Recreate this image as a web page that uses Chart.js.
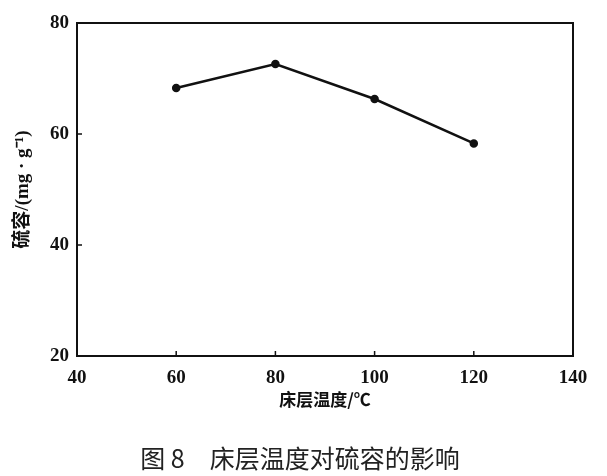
<!DOCTYPE html>
<html lang="zh">
<head>
  <meta charset="UTF-8">
  <title>床层温度对硫容的影响</title>
  <script src="https://cdn.jsdelivr.net/npm/chart.js"></script>
  <style>
    html, body { margin: 0; padding: 0; background: #fff; }
    #wrap { width: 607px; height: 476px; }
  </style>
</head>
<body>
<div id="wrap"><canvas id="c"></canvas></div>
<script>
// 床层温度 (℃) 与硫容 (mg/g)
const temps = [60, 80, 100, 120];
const sulfurCap = [68.3, 72.6, 66.3, 58.3];
const xTicks = [40, 60, 80, 100, 120, 140];
const yTicks = [20, 40, 60, 80];
const caption = '图 8　床层温度对硫容的影响';

const serif = '"Liberation Serif", "Noto Sans CJK SC", serif';

// 坐标框 + 向内刻度 + 图题
const frame = {
  id: 'frame',
  afterDraw(chart) {
    const { ctx, chartArea: a, scales } = chart;
    ctx.save();
    ctx.strokeStyle = '#111';
    ctx.lineWidth = 2;
    ctx.strokeRect(a.left, a.top, a.right - a.left, a.bottom - a.top);
    ctx.lineWidth = 1.5;
    ctx.beginPath();
    xTicks.slice(1, -1).forEach(v => {
      const px = scales.x.getPixelForValue(v);
      ctx.moveTo(px, a.bottom);
      ctx.lineTo(px, a.bottom - 5);
    });
    yTicks.slice(1, -1).forEach(v => {
      const py = scales.y.getPixelForValue(v);
      ctx.moveTo(a.left, py);
      ctx.lineTo(a.left + 5, py);
    });
    ctx.stroke();

    ctx.fillStyle = '#222';
    ctx.font = '25px "Noto Sans CJK SC", sans-serif';
    ctx.textAlign = 'center';
    ctx.textBaseline = 'middle';
    ctx.fillText(caption, 300, 458);
    ctx.restore();
  }
};

new Chart(document.getElementById('c'), {
  type: 'line',
  data: {
    datasets: [{
      data: temps.map((t, i) => ({ x: t, y: sulfurCap[i] })),
      borderColor: '#111',
      backgroundColor: '#111',
      borderWidth: 2.5,
      pointRadius: 3,
      fill: false,
      tension: 0
    }]
  },
  options: {
    responsive: true,
    maintainAspectRatio: false,
    animation: false,
    layout: { padding: { top: 23, right: 34, left: 0, bottom: 476 - 443 } },
    plugins: {
      legend: { display: false },
      tooltip: { enabled: false },
      title: { display: false }
    },
    scales: {
      x: {
        type: 'linear',
        min: 40, max: 140,
        afterBuildTicks: s => { s.ticks = xTicks.map(v => ({ value: v })); },
        afterFit: s => { s.height = 443 - 356; },
        grid: { display: false, drawTicks: false },
        border: { display: true, color: '#111', width: 2 },
        ticks: { color: '#111', padding: 11, font: { family: serif, size: 19, weight: 'bold' } },
        title: {
          display: true,
          text: '床层温度/℃',
          color: '#111',
          font: { family: '"Noto Sans CJK SC", sans-serif', size: 17, weight: 'bold', lineHeight: 1.2 },
          padding: { top: 0, bottom: 33 }
        }
      },
      y: {
        min: 20, max: 80,
        afterBuildTicks: s => { s.ticks = yTicks.map(v => ({ value: v })); },
        afterFit: s => { s.width = 77; },
        grid: { display: false, drawTicks: false },
        border: { display: true, color: '#111', width: 2 },
        ticks: { color: '#111', padding: 8, font: { family: serif, size: 19, weight: 'bold' } },
        title: {
          display: true,
          text: '硫容/(mg · g⁻¹)',
          color: '#111',
          font: { family: serif, size: 19, weight: 'bold', lineHeight: 1.2 },
          padding: { top: 12, bottom: 0 }
        }
      }
    }
  },
  plugins: [frame]
});
</script>
</body>
</html>
